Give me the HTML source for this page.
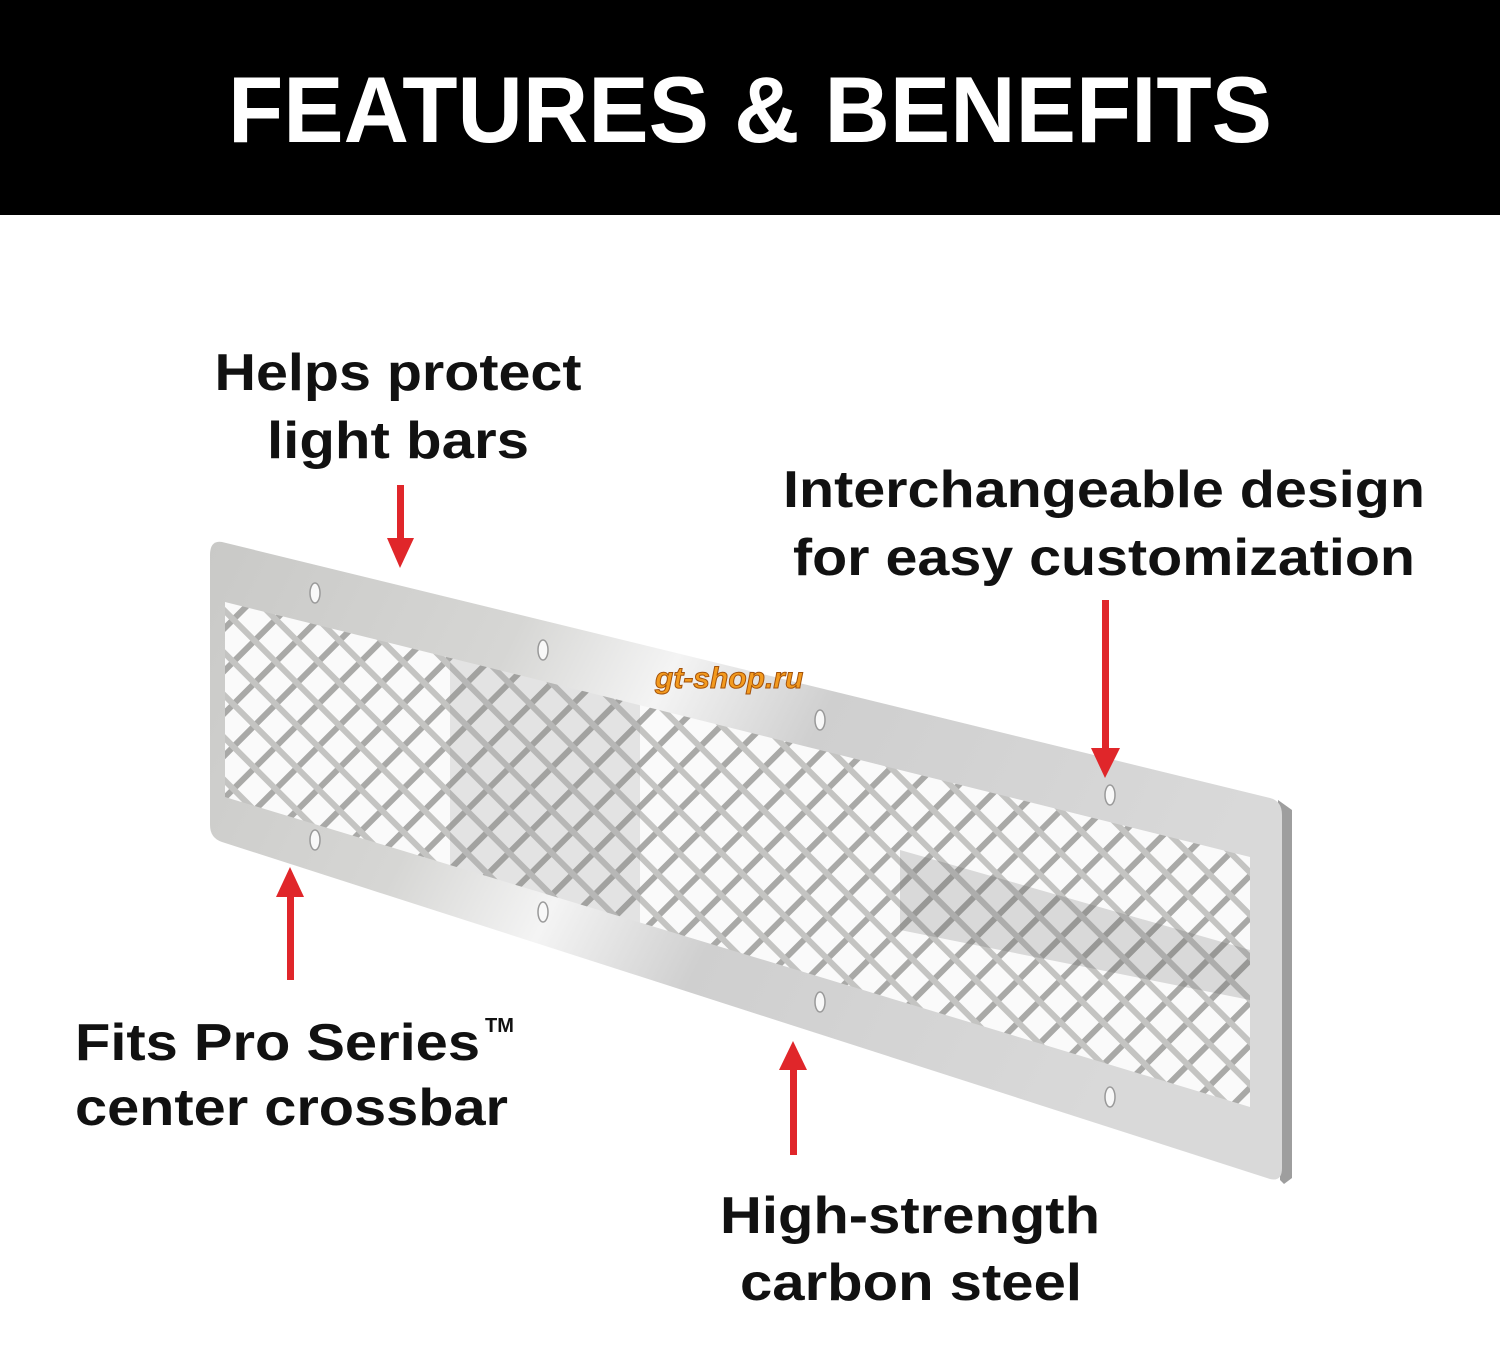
<!DOCTYPE html>
<html><head><meta charset="utf-8"><style>
html,body{margin:0;padding:0;background:#fff;}
svg{display:block;}
text{font-family:"Liberation Sans","DejaVu Sans",sans-serif;font-weight:bold;}
</style></head><body>
<svg width="1500" height="1350" viewBox="0 0 1500 1350" xmlns="http://www.w3.org/2000/svg">
<defs>
<linearGradient id="pl" x1="0" y1="0" x2="1" y2="0.3">
<stop offset="0" stop-color="#c9c9c7"/><stop offset="0.3" stop-color="#d6d6d4"/><stop offset="0.45" stop-color="#f4f4f4"/><stop offset="0.6" stop-color="#cfcfcf"/><stop offset="1" stop-color="#d9d9d9"/>
</linearGradient>
<clipPath id="op"><polygon points="225,602 1250,857 1250,1107 225,797"/></clipPath>
<pattern id="mesh" width="30" height="30" patternUnits="userSpaceOnUse" patternTransform="rotate(45)">
<rect width="30" height="30" fill="#fafafa"/>
<rect x="0" y="0" width="6" height="30" fill="#a9a9a7"/>
<rect x="0" y="0" width="30" height="6" fill="#c4c4c2"/>
</pattern>
</defs>
<rect x="0" y="0" width="1500" height="215" fill="#000"/>
<text x="750" y="142" fill="#fff" font-size="94" text-anchor="middle" textLength="1044" lengthAdjust="spacingAndGlyphs">FEATURES &amp; BENEFITS</text>

<polygon points="1278,800 1292,810 1292,1178 1284,1184 1280,1180" fill="#9e9e9e"/>
<path d="M222,542 L1270,798 Q1282,801 1282,815 L1282,1168 Q1282,1182 1270,1179 L222,842 Q210,838 210,825 L210,555 Q210,540 222,542 Z" fill="url(#pl)"/>
<polygon points="225,602 1250,857 1250,1107 225,797" fill="url(#mesh)"/>
<g clip-path="url(#op)" opacity="0.2">
<polygon points="450,600 640,650 640,1000 450,900" fill="#888"/>
<polygon points="900,850 1250,950 1250,1000 900,930" fill="#555"/>
</g>
<g fill="#f8f8f8" stroke="#999" stroke-width="1.5">
<ellipse cx="315" cy="593" rx="5" ry="10"/><ellipse cx="543" cy="650" rx="5" ry="10"/>
<ellipse cx="820" cy="720" rx="5" ry="10"/><ellipse cx="1110" cy="795" rx="5" ry="10"/>
<ellipse cx="315" cy="840" rx="5" ry="10"/><ellipse cx="543" cy="912" rx="5" ry="10"/>
<ellipse cx="820" cy="1002" rx="5" ry="10"/><ellipse cx="1110" cy="1097" rx="5" ry="10"/>
</g>
<text x="655" y="688" fill="#f39a1e" font-size="30" font-style="italic" stroke="#a4520a" stroke-width="1">gt-shop.ru</text>

<g fill="#e0262a">
<rect x="397" y="485" width="7" height="55"/><polygon points="387,538 414,538 400,568"/>
<rect x="1102" y="600" width="7" height="150"/><polygon points="1091,748 1120,748 1105,778"/>
<rect x="287" y="895" width="7" height="85"/><polygon points="276,897 304,897 290,867"/>
<rect x="790" y="1068" width="7" height="87"/><polygon points="779,1070 807,1070 793,1041"/>
</g>

<g fill="#111" font-size="52">
<text x="398" y="390" text-anchor="middle" textLength="367" lengthAdjust="spacingAndGlyphs">Helps protect</text>
<text x="398" y="458" text-anchor="middle" textLength="262" lengthAdjust="spacingAndGlyphs">light bars</text>
<text x="1104" y="507" text-anchor="middle" textLength="642" lengthAdjust="spacingAndGlyphs">Interchangeable design</text>
<text x="1104" y="575" text-anchor="middle" textLength="622" lengthAdjust="spacingAndGlyphs">for easy customization</text>
<text x="75" y="1060" textLength="405" lengthAdjust="spacingAndGlyphs">Fits Pro Series</text>
<text x="485" y="1032" font-size="20">TM</text>
<text x="75" y="1125" textLength="433" lengthAdjust="spacingAndGlyphs">center crossbar</text>
<text x="910" y="1233" text-anchor="middle" textLength="380" lengthAdjust="spacingAndGlyphs">High-strength</text>
<text x="911" y="1300" text-anchor="middle" textLength="342" lengthAdjust="spacingAndGlyphs">carbon steel</text>
</g>
</svg>
</body></html>
